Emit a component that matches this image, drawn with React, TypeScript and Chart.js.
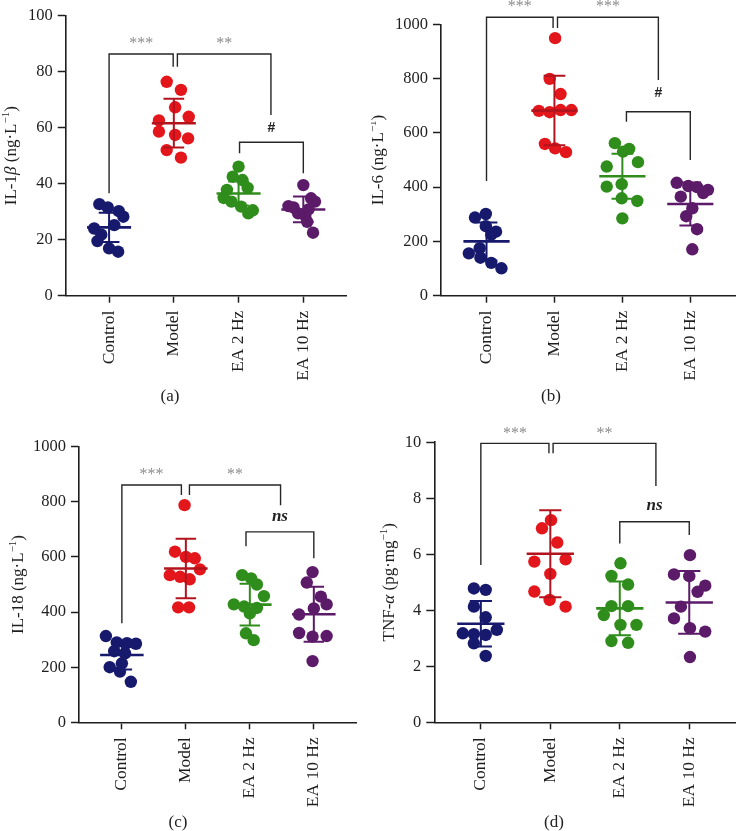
import React, { useEffect, useRef } from "react";
import { Chart, registerables } from "chart.js";

Chart.register(...registerables);

// ---------- shared ----------
const GROUPS = ["Control", "Model", "EA 2 Hz", "EA 10 Hz"];
const POINT_COLORS = ["#171a6c", "#e3161b", "#2f8d1c", "#5c1b68"];
const BAR_COLORS = ["#171a6c", "#b3131d", "#2f8d1c", "#5c1b68"];

// ---------- (a) IL-1β ----------
const IL1B_CONTROL = [32.7, 31.5, 30.2, 28.2, 25.2, 24.0, 21.8, 19.5, 16.9, 15.7];
const IL1B_MODEL = [76.4, 73.5, 67.3, 62.6, 63.9, 58.6, 57.4, 56.2, 52.0, 49.3];
const IL1B_EA2 = [46.1, 42.5, 41.3, 38.5, 37.8, 34.9, 33.6, 31.8, 30.5, 29.4];
const IL1B_EA10 = [39.5, 34.8, 33.6, 32.0, 31.5, 30.8, 29.4, 28.5, 26.4, 22.5];
const IL1B_JITTER = [
  [-0.15, -0.02, 0.15, 0.22, 0.08, -0.23, -0.12, -0.18, 0, 0.14],
  [-0.11, 0.11, 0.02, -0.23, 0.23, -0.23, 0.02, 0.22, -0.11, 0.11],
  [0, -0.09, 0.06, 0.14, -0.18, -0.23, -0.11, 0.04, 0.22, 0.15],
  [0, 0.12, 0.18, -0.23, -0.15, 0.08, -0.08, 0.03, 0.06, 0.15],
];
const IL1B_MEAN = [24.4, 61.6, 36.5, 30.8];
const IL1B_SD = [5.2, 8.7, 4.3, 4.6];
const IL1B_BRACKETS = [
  { x1: 0, x2: 0.99, top: 86.3, y1: 36.6, y2: 81.8, label: "***", labelY: 91.1 },
  { x1: 1.055, x2: 2.5, top: 86.3, y1: 81.8, y2: 64.5, label: "**", labelY: 91.1 },
  { x1: 2.015, x2: 3, top: 54.8, y1: 50.9, y2: 43.7, label: "#", labelY: 60.4 },
];

// ---------- (b) IL-6 ----------
const IL6_CONTROL = [301, 288, 256, 236, 225, 175, 156, 140, 121, 101];
const IL6_MODEL = [949, 799, 743, 684, 684, 681, 676, 559, 543, 529];
const IL6_EA2 = [562, 541, 531, 492, 476, 411, 402, 359, 349, 285];
const IL6_EA10 = [416, 404, 400, 390, 378, 365, 322, 293, 245, 171];
const IL6_JITTER = [
  [-0.01, -0.17, -0.01, 0.14, 0.07, -0.1, -0.26, -0.09, 0.07, 0.22],
  [0.01, -0.07, 0.09, 0.09, 0.25, -0.23, -0.07, -0.14, 0.01, 0.17],
  [-0.11, 0.1, 0.01, 0.23, -0.23, -0.01, -0.23, -0.01, 0.22, 0],
  [-0.2, -0.03, 0.1, 0.26, 0.19, -0.14, 0.03, -0.06, 0.1, 0.03],
];
const IL6_MEAN = [200, 682, 440, 338];
const IL6_SD = [70, 128, 83, 79];
const IL6_BRACKETS = [
  { x1: 0, x2: 0.98, top: 1026, y1: 423, y2: 986, label: "***", labelY: 1077 },
  { x1: 1.045, x2: 2.53, top: 1026, y1: 986, y2: 795, label: "***", labelY: 1077 },
  { x1: 2.06, x2: 3, top: 678, y1: 641, y2: 500, label: "#", labelY: 752 },
];

// ---------- (c) IL-18 ----------
const IL18_CONTROL = [313, 290, 287, 285, 258, 250, 214, 200, 184, 147];
const IL18_MODEL = [788, 619, 600, 595, 555, 534, 528, 519, 417, 417];
const IL18_EA2 = [534, 522, 500, 458, 428, 420, 415, 395, 323, 298];
const IL18_EA10 = [545, 507, 456, 428, 413, 391, 324, 311, 313, 222];
const IL18_JITTER = [
  [-0.25, -0.08, 0.08, 0.22, -0.12, 0.05, 0, -0.19, -0.03, 0.14],
  [-0.02, -0.17, 0, 0.14, 0.22, -0.25, -0.09, 0.06, -0.12, 0.05],
  [-0.12, 0.02, 0.11, 0.22, -0.25, -0.09, 0.11, 0, -0.06, 0.06],
  [-0.02, -0.11, 0.11, 0.2, 0, -0.23, -0.23, -0.02, 0.2, -0.02],
];
const IL18_MEAN = [244, 558, 427, 392];
const IL18_SD = [52, 108, 76, 100];
const IL18_BRACKETS = [
  { x1: 0, x2: 0.93, top: 861, y1: 359, y2: 825, label: "***", labelY: 909 },
  { x1: 1.056, x2: 2.48, top: 861, y1: 825, y2: 788, label: "**", labelY: 909 },
  { x1: 1.94, x2: 3, top: 691, y1: 639, y2: 595, label: "ns", labelY: 744 },
];

// ---------- (d) TNF-α ----------
const TNF_CONTROL = [4.78, 4.73, 4.13, 3.75, 3.3, 3.18, 3.15, 3.12, 2.82, 2.37];
const TNF_MODEL = [7.22, 6.93, 6.42, 5.82, 5.74, 5.3, 4.67, 4.37, 4.13];
const TNF_EA2 = [5.68, 5.23, 4.92, 4.15, 4.15, 3.83, 3.48, 3.48, 2.9, 2.84];
const TNF_EA10 = [5.97, 5.28, 5.22, 4.88, 4.66, 4.13, 3.71, 3.36, 3.24, 2.33];
const TNF_JITTER = [
  [-0.1, 0.07, -0.1, 0.07, 0.23, -0.26, -0.1, 0.07, -0.1, 0.07],
  [0.01, -0.12, 0.1, 0.22, -0.23, 0, -0.23, -0.01, 0.22],
  [0.01, -0.12, 0.12, -0.12, 0.12, -0.23, 0.01, 0.24, -0.12, 0.12],
  [0.01, -0.22, 0, 0.23, 0.12, -0.12, -0.22, 0.01, 0.23, 0.01],
];
const TNF_MEAN = [3.52, 6.02, 4.07, 4.28];
const TNF_SD = [0.81, 1.55, 0.96, 1.12];
const TNF_BRACKETS = [
  { x1: 0, x2: 0.98, top: 9.96, y1: 5.62, y2: 9.61, label: "***", labelY: 10.41 },
  { x1: 1.04, x2: 2.52, top: 9.96, y1: 9.61, y2: 8.44, label: "**", labelY: 10.41 },
  { x1: 2, x2: 3, top: 7.16, y1: 6.39, y2: 6.69, label: "ns", labelY: 7.73 },
];

// ---------- axis titles (rich text segments) ----------
type Seg = { t: string; italic?: boolean; sup?: boolean };
const TITLE_A: Seg[] = [{ t: "IL-1" }, { t: "β", italic: true }, { t: " (ng·L" }, { t: "−1", sup: true }, { t: ")" }];
const TITLE_B: Seg[] = [{ t: "IL-6 (ng·L" }, { t: "−1", sup: true }, { t: ")" }];
const TITLE_C: Seg[] = [{ t: "IL-18 (ng·L" }, { t: "−1", sup: true }, { t: ")" }];
const TITLE_D: Seg[] = [{ t: "TNF-" }, { t: "α", italic: true }, { t: " (pg·mg" }, { t: "−1", sup: true }, { t: ")" }];

const SERIF = "'Liberation Serif', 'DejaVu Serif', serif";
const AXIS = "#1e1e1e";
const TEXT = "#1e1e1e";

type Bracket = { x1: number; x2: number; top: number; y1: number; y2: number; label: string; labelY: number };

type PanelDef = {
  left: number;
  top: number;
  width: number;
  height: number;
  area: { left: number; top: number; right: number; bottom: number };
  yMax: number;
  yStep: number;
  values: number[][];
  jitter: number[][];
  means: number[];
  sds: number[];
  brackets: Bracket[];
  title: Seg[];
  titleX: number;
  caption: string;
  captionX: number;
  captionY: number;
};

const PANELS: PanelDef[] = [
  {
    left: 0, top: 0, width: 371, height: 410,
    area: { left: 65.7, top: 15.7, right: 346.7, bottom: 295.7 },
    yMax: 100, yStep: 20,
    values: [IL1B_CONTROL, IL1B_MODEL, IL1B_EA2, IL1B_EA10],
    jitter: IL1B_JITTER, means: IL1B_MEAN, sds: IL1B_SD, brackets: IL1B_BRACKETS,
    title: TITLE_A, titleX: 11.7, caption: "(a)", captionX: 170, captionY: 397,
  },
  {
    left: 371, top: 0, width: 371, height: 410,
    area: { left: 70, top: 24.3, right: 370, bottom: 295.7 },
    yMax: 1000, yStep: 200,
    values: [IL6_CONTROL, IL6_MODEL, IL6_EA2, IL6_EA10],
    jitter: IL6_JITTER, means: IL6_MEAN, sds: IL6_SD, brackets: IL6_BRACKETS,
    title: TITLE_B, titleX: 7.5, caption: "(b)", captionX: 180, captionY: 397,
  },
  {
    left: 0, top: 410, width: 371, height: 421,
    area: { left: 79, top: 36.7, right: 356.7, bottom: 312.3 },
    yMax: 1000, yStep: 200,
    values: [IL18_CONTROL, IL18_MODEL, IL18_EA2, IL18_EA10],
    jitter: IL18_JITTER, means: IL18_MEAN, sds: IL18_SD, brackets: IL18_BRACKETS,
    title: TITLE_C, titleX: 18.3, caption: "(c)", captionX: 178, captionY: 413,
  },
  {
    left: 371, top: 410, width: 371, height: 421,
    area: { left: 63.3, top: 32.3, right: 366.7, bottom: 312.3 },
    yMax: 10, yStep: 2,
    values: [TNF_CONTROL, TNF_MODEL, TNF_EA2, TNF_EA10],
    jitter: TNF_JITTER, means: TNF_MEAN, sds: TNF_SD, brackets: TNF_BRACKETS,
    title: TITLE_D, titleX: 18.3, caption: "(d)", captionX: 183, captionY: 413,
  },
];

function segFont(s: Seg) {
  const size = s.sup ? 11 : 17;
  return `${s.italic ? "italic " : ""}${size}px ${SERIF}`;
}

function makeOverlay(p: PanelDef) {
  return {
    id: "overlay",
    afterDatasetsDraw(chart: any) {
      const ctx = chart.ctx;
      const xs = chart.scales.x;
      const ys = chart.scales.y;
      ctx.save();
      p.means.forEach((m, i) => {
        const sd = p.sds[i];
        const cx = xs.getPixelForValue(i);
        const yT = ys.getPixelForValue(m + sd);
        const yB = ys.getPixelForValue(m - sd);
        const yM = ys.getPixelForValue(m);
        const capL = xs.getPixelForValue(i - 0.16);
        const capR = xs.getPixelForValue(i + 0.16);
        const mL = xs.getPixelForValue(i - 0.34);
        const mR = xs.getPixelForValue(i + 0.34);
        ctx.strokeStyle = BAR_COLORS[i];
        ctx.lineWidth = 2;
        ctx.beginPath();
        ctx.moveTo(cx, yT);
        ctx.lineTo(cx, yB);
        ctx.moveTo(capL, yT);
        ctx.lineTo(capR, yT);
        ctx.moveTo(capL, yB);
        ctx.lineTo(capR, yB);
        ctx.stroke();
        ctx.lineWidth = 2.6;
        ctx.beginPath();
        ctx.moveTo(mL, yM);
        ctx.lineTo(mR, yM);
        ctx.stroke();
      });
      ctx.restore();
    },
    afterDraw(chart: any) {
      const ctx = chart.ctx;
      const xs = chart.scales.x;
      const ys = chart.scales.y;
      ctx.save();
      // brackets
      p.brackets.forEach((b) => {
        const x1 = xs.getPixelForValue(b.x1);
        const x2 = xs.getPixelForValue(b.x2);
        const yt = ys.getPixelForValue(b.top);
        ctx.strokeStyle = "#262626";
        ctx.lineWidth = 1.4;
        ctx.beginPath();
        ctx.moveTo(x1, ys.getPixelForValue(b.y1));
        ctx.lineTo(x1, yt);
        ctx.lineTo(x2, yt);
        ctx.lineTo(x2, ys.getPixelForValue(b.y2));
        ctx.stroke();
        const lx = (x1 + x2) / 2;
        const ly = ys.getPixelForValue(b.labelY);
        let font = `16px ${SERIF}`;
        let color = "#8c8c8c";
        if (b.label === "#") {
          font = `bold 14px 'Liberation Sans', sans-serif`;
          color = "#222";
        } else if (b.label === "ns") {
          font = `italic bold 17px ${SERIF}`;
          color = "#222";
        }
        ctx.font = font;
        ctx.fillStyle = color;
        ctx.textAlign = "center";
        ctx.textBaseline = "alphabetic";
        const m = ctx.measureText(b.label);
        const asc = m.actualBoundingBoxAscent || 8;
        const desc = m.actualBoundingBoxDescent || 0;
        ctx.fillText(b.label, lx, ly + (asc - desc) / 2);
      });
      // y title
      const ca = chart.chartArea;
      ctx.save();
      ctx.translate(p.titleX, (ca.top + ca.bottom) / 2);
      ctx.rotate(-Math.PI / 2);
      ctx.fillStyle = TEXT;
      ctx.textAlign = "left";
      ctx.textBaseline = "middle";
      let total = 0;
      p.title.forEach((s) => {
        ctx.font = segFont(s);
        total += ctx.measureText(s.t).width;
      });
      let x = -total / 2;
      p.title.forEach((s) => {
        ctx.font = segFont(s);
        ctx.fillText(s.t, x, s.sup ? -5.5 : 0);
        x += ctx.measureText(s.t).width;
      });
      ctx.restore();
      // caption
      ctx.font = `17px ${SERIF}`;
      ctx.fillStyle = TEXT;
      ctx.textAlign = "center";
      ctx.textBaseline = "middle";
      ctx.fillText(p.caption, p.captionX, p.captionY);
      ctx.restore();
    },
  };
}

function Panel({ p }: { p: PanelDef }) {
  const ref = useRef<HTMLCanvasElement | null>(null);
  useEffect(() => {
    if (!ref.current) return;
    const chart = new Chart(ref.current, {
      type: "scatter",
      data: {
        datasets: p.values.map((vals, gi) => ({
          label: GROUPS[gi],
          data: vals.map((v, k) => ({ x: gi + p.jitter[gi][k], y: v })),
          backgroundColor: POINT_COLORS[gi],
          borderWidth: 0,
          pointRadius: 6.2,
          pointHoverRadius: 6.2,
        })),
      },
      options: {
        animation: false,
        responsive: false,
        events: [],
        layout: {
          padding: { left: 0, top: p.area.top, right: p.width - p.area.right, bottom: 0 },
        },
        plugins: {
          legend: { display: false },
          tooltip: { enabled: false },
        },
        scales: {
          x: {
            type: "linear",
            min: -0.67,
            max: 3.67,
            afterBuildTicks: (s: any) => {
              s.ticks = GROUPS.map((_, i) => ({ value: i }));
            },
            afterFit: (s: any) => {
              s.height = p.height - p.area.bottom;
            },
            grid: {
              display: true,
              drawOnChartArea: false,
              drawTicks: true,
              tickLength: 7,
              tickColor: AXIS,
              tickWidth: 1.5,
            },
            border: { display: true, color: AXIS, width: 1.6 },
            ticks: {
              autoSkip: false,
              minRotation: 90,
              maxRotation: 90,
              padding: 8,
              color: TEXT,
              font: { family: SERIF, size: 17.5 },
              callback: (v: any) => GROUPS[Math.round(Number(v))] ?? "",
            },
          },
          y: {
            min: 0,
            max: p.yMax,
            afterFit: (s: any) => {
              s.width = p.area.left;
            },
            grid: {
              display: true,
              drawOnChartArea: false,
              drawTicks: true,
              tickLength: 8,
              tickColor: AXIS,
              tickWidth: 1.5,
            },
            border: { display: true, color: AXIS, width: 1.6 },
            ticks: {
              stepSize: p.yStep,
              padding: 5,
              color: TEXT,
              font: { family: SERIF, size: 16.5 },
              callback: (v: any) => String(v),
            },
          },
        },
      } as any,
      plugins: [makeOverlay(p)],
    });
    return () => chart.destroy();
  }, [p]);
  return (
    <canvas
      ref={ref}
      width={p.width}
      height={p.height}
      style={{ position: "absolute", left: p.left, top: p.top, width: p.width, height: p.height }}
    />
  );
}

export default function App() {
  return (
    <div style={{ position: "absolute", left: 0, top: 0, width: 742, height: 831, background: "#fff" }}>
      {PANELS.map((p, i) => (
        <Panel key={i} p={p} />
      ))}
    </div>
  );
}
